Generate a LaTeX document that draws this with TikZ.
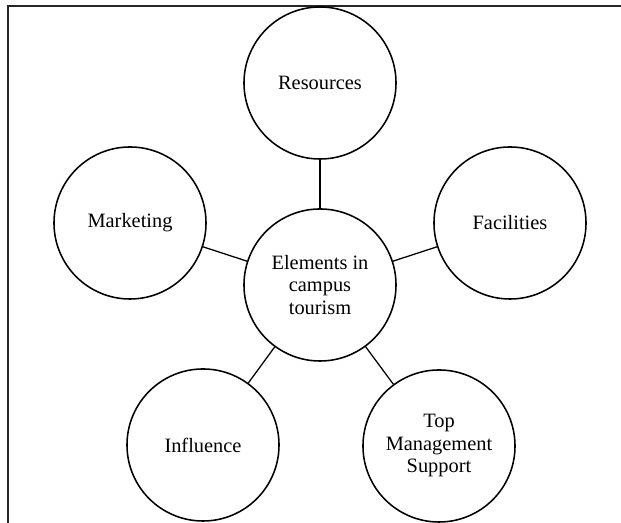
\documentclass[tikz,border=0pt]{standalone}
\usepackage{fontspec}
\setmainfont{Liberation Serif}
\usepackage{tikz}
\usetikzlibrary{positioning}

\tikzset{
  elem/.style={draw, circle, line width=1.1pt, minimum size=3.8cm, inner sep=1pt,
    align=center, font=\fontsize{14.5}{16}\selectfont},
  link/.style={line width=0.9pt}
}

\begin{document}
\begin{tikzpicture}[x=0.025cm, y=0.025cm]
        \useasboundingbox (0,0) rectangle (621,523);
        % outer frame (runs off the page at the right and bottom)
        \draw[line width=1.6pt, black!85] (8,-10) -- (8,517) -- (640,517);

        \node[elem] (hub) at (320,238) {Elements in\\campus\\tourism};
        \node[elem] (res) at (320,440) {Resources};
        \node[elem] (mkt) at (130,300) {Marketing};
        \node[elem] (fac) at (510,300) {Facilities};
        \node[elem] (inf) at (203,78) {Influence};
        \node[elem] (tms) at (439,77) {Top\\Management\\Support};

        \draw[link] (hub) -- (res);
        \draw[link] (hub) -- (mkt);
        \draw[link] (hub) -- (fac);
        \draw[link] (hub) -- (inf);
        \draw[link] (hub) -- (tms);
      \end{tikzpicture}
\end{document}
